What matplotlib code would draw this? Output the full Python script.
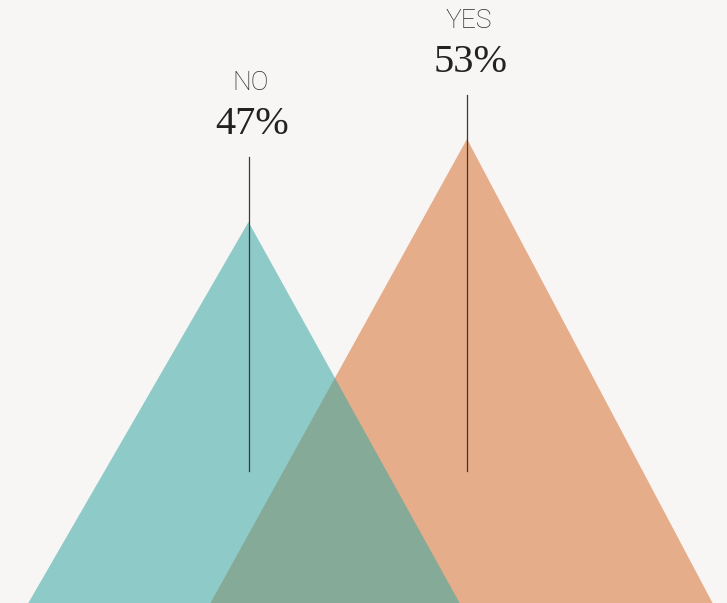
import matplotlib
matplotlib.use("Agg")
from matplotlib import pyplot as plt
from matplotlib.patches import Polygon

# chart data
labels = ["NO", "YES"]
values = [47, 53]
pct_labels = ["47%", "53%"]

# layout (pixels)
W, H = 727, 603
centers = [248.5, 467]
baseline = 872          # where the triangles' bases would sit
px_per_unit = 13.83     # height per percent
half_slopes = [0.566, 0.541]  # half base width / height
skew = -0.0118          # base centre shift per px of height (slight lean)
line_tops = [157, 95]
line_bottom = 471
colors = ["#3ca8a4", "#e6ad8a"]
alphas = [0.56, 1.0]
bg = "#f7f6f4"

fig = plt.figure(figsize=(W / 100, H / 100), dpi=100, facecolor=bg)
ax = fig.add_axes([0, 0, 1, 1])
ax.set_facecolor(bg)
ax.set_xlim(0, W)
ax.set_ylim(H, 0)
ax.axis("off")

# draw YES first, NO on top with transparency
for i in [1, 0]:
    h = values[i] * px_per_unit
    apex_y = baseline - h
    hw = h * half_slopes[i]
    c = centers[i]
    bc = c + skew * h
    tri = Polygon([(bc - hw, baseline), (c, apex_y), (bc + hw, baseline)],
                  closed=True, facecolor=colors[i], alpha=alphas[i],
                  edgecolor="none", zorder=1 if i == 1 else 2)
    ax.add_patch(tri)

for i in range(2):
    c = centers[i]
    ax.plot([c, c], [line_tops[i], line_bottom], color="#3a3a3a", lw=0.9, zorder=3)
    ax.text(c + 4, line_tops[i] - 33, pct_labels[i], ha="center", va="center",
            fontsize=29, family="Liberation Serif", color="#222222")
    ax.text(c + 2, line_tops[i] - 74, labels[i], ha="center", va="center",
            fontsize=19, family="Roboto", fontweight="light", color="#2a2a2a")

fig.savefig("out.png", dpi=100, facecolor=bg)
